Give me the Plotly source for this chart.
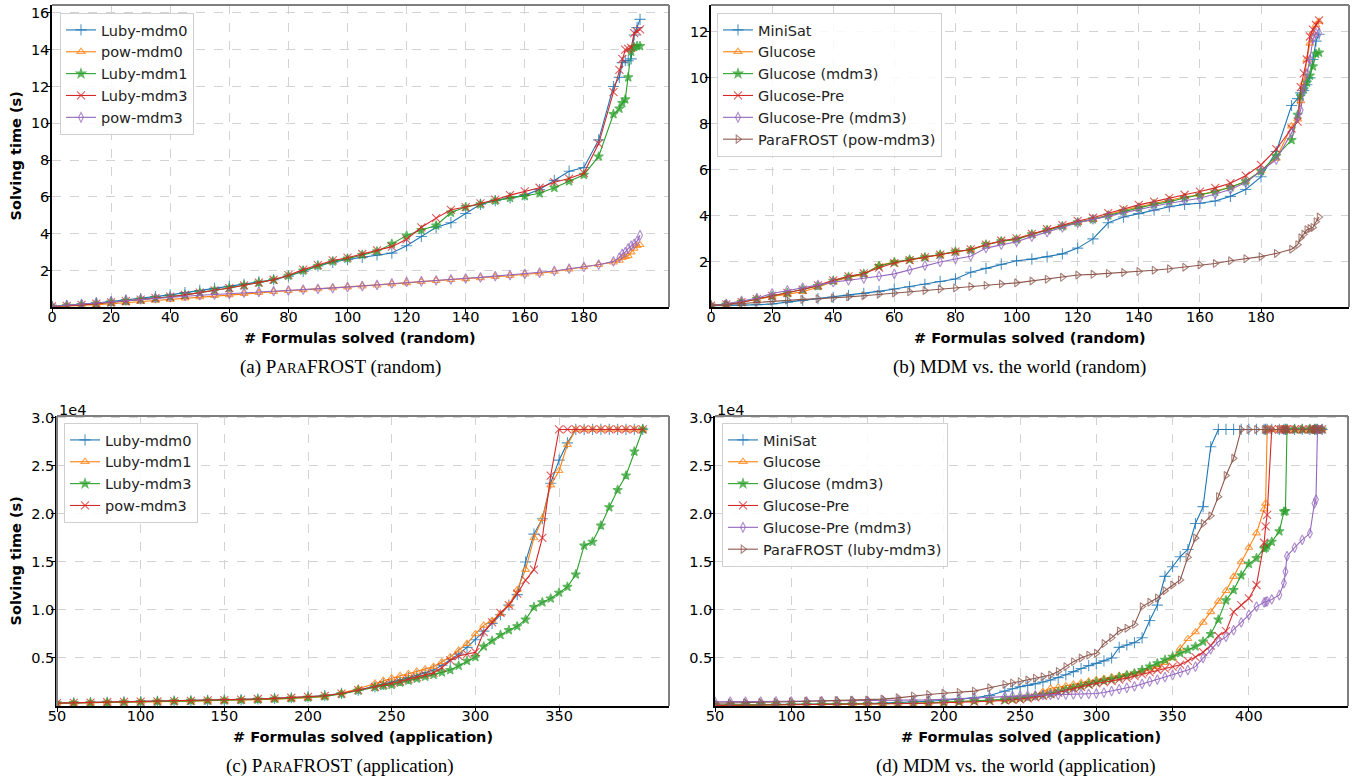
import plotly.graph_objects as go

# ---------------- data: random benchmark (a), (b) ----------------
R_X = [0, 5, 10, 15, 20, 25, 30, 35, 40, 45, 50, 55, 60, 65, 70, 75, 80, 85, 90, 95,
       100, 105, 110, 115, 120, 125, 130, 135, 140, 145, 150, 155, 160, 165, 170, 175,
       180, 185, 190, 192, 193, 194, 195, 196, 197, 198, 199]

A_LUBY0 = [0.05, 0.1, 0.17, 0.24, 0.32, 0.4, 0.48, 0.58, 0.68, 0.8,
           0.92, 1.03, 1.14, 1.25, 1.38, 1.5, 1.7, 1.95, 2.25, 2.45,
           2.6, 2.72, 2.85, 2.95, 3.35, 3.85, 4.35, 4.6, 5.1, 5.6,
           5.8, 5.95, 6.1, 6.4, 6.9, 7.4, 7.6, 9.1, 12.0,
           12.5, 13.3, 13.4, 13.4, 13.5, 14.8, 15.2, 15.65]
A_POW0 = [0.03, 0.06, 0.1, 0.15, 0.2, 0.26, 0.32, 0.37, 0.42, 0.5,
          0.57, 0.63, 0.68, 0.74, 0.8, 0.85, 0.9, 0.95, 1.0, 1.05,
          1.1, 1.15, 1.2, 1.27, 1.33, 1.4, 1.45, 1.5, 1.55, 1.6,
          1.67, 1.72, 1.8, 1.85, 1.95, 2.08, 2.2, 2.32, 2.45,
          2.55, 2.7, 2.75, 2.8, 3.0, 3.2, 3.35, 3.4]
A_LUBY1 = [0.05, 0.08, 0.13, 0.2, 0.27, 0.34, 0.42, 0.5, 0.58, 0.68,
           0.8, 0.92, 1.05, 1.2, 1.35, 1.5, 1.72, 2.0, 2.25, 2.5,
           2.65, 2.85, 3.05, 3.45, 3.9, 4.2, 4.45, 5.15, 5.45, 5.6,
           5.8, 5.95, 6.05, 6.2, 6.5, 6.85, 7.2, 8.2, 10.5,
           10.8, 11.1, 11.3, 12.5, 13.9, 14.15, 14.2, 14.2]
A_LUBY3 = [0.05, 0.08, 0.13, 0.2, 0.27, 0.34, 0.42, 0.5, 0.58, 0.68,
           0.8, 0.92, 1.05, 1.2, 1.35, 1.5, 1.75, 2.05, 2.3, 2.55,
           2.7, 2.9, 3.1, 3.3, 3.7, 4.35, 4.85, 5.3, 5.45, 5.65,
           5.85, 6.1, 6.3, 6.5, 6.8, 7.0, 7.3, 8.9, 11.7,
           12.9, 13.5, 14.0, 14.05, 14.1, 14.9, 15.0, 15.1]
A_POW3 = [0.06, 0.12, 0.18, 0.25, 0.33, 0.4, 0.45, 0.5, 0.56, 0.62,
          0.66, 0.7, 0.74, 0.8, 0.85, 0.88, 0.92, 0.96, 1.0, 1.05,
          1.1, 1.16, 1.22, 1.3, 1.38, 1.42, 1.47, 1.52, 1.58, 1.63,
          1.7, 1.75, 1.82, 1.88, 1.98, 2.1, 2.2, 2.32, 2.5,
          2.7, 2.9, 3.0, 3.2, 3.35, 3.45, 3.6, 3.92]

B_MINISAT = [0.1, 0.1, 0.12, 0.14, 0.17, 0.25, 0.33, 0.4, 0.46, 0.55,
             0.63, 0.72, 0.82, 0.92, 1.03, 1.15, 1.26, 1.55, 1.72, 1.9,
             2.05, 2.12, 2.22, 2.35, 2.6, 3.0, 3.7, 3.95, 4.1, 4.25,
             4.4, 4.5, 4.55, 4.65, 4.85, 5.15, 5.7, 6.8, 8.8,
             9.1, 9.35, 9.45, 9.7, 10.0, 10.8, 11.6, 11.9]
B_GLUCOSE = [0.1, 0.15, 0.25, 0.38, 0.5, 0.6, 0.7, 0.9, 1.15, 1.32,
             1.45, 1.85, 2.0, 2.1, 2.2, 2.32, 2.45, 2.52, 2.75, 2.9,
             2.98, 3.2, 3.4, 3.55, 3.72, 3.85, 4.05, 4.25, 4.4, 4.55,
             4.7, 4.82, 4.92, 5.08, 5.25, 5.5, 5.95, 6.5, 7.9,
             8.2, 9.0, 9.8, 10.8, 11.5, 11.95, 12.3, 12.45]
B_GLUCOSE_M3 = [0.1, 0.15, 0.25, 0.38, 0.52, 0.65, 0.8, 0.95, 1.18, 1.35,
                1.48, 1.82, 1.98, 2.1, 2.2, 2.32, 2.45, 2.52, 2.75, 2.9,
                2.98, 3.2, 3.38, 3.55, 3.72, 3.85, 4.02, 4.2, 4.35, 4.5,
                4.62, 4.78, 4.9, 5.05, 5.25, 5.5, 5.95, 6.6, 7.3,
                8.4, 9.2, 9.5, 9.8, 10.1, 10.5, 11.05, 11.1]
B_GLUCOSE_PRE = [0.1, 0.15, 0.25, 0.38, 0.52, 0.65, 0.8, 0.98, 1.2, 1.37,
                 1.5, 1.75, 1.95, 2.08, 2.2, 2.32, 2.45, 2.55, 2.75, 2.92,
                 3.02, 3.22, 3.42, 3.6, 3.78, 3.92, 4.12, 4.3, 4.48, 4.62,
                 4.78, 4.92, 5.06, 5.22, 5.42, 5.75, 6.22, 6.9, 7.8,
                 8.1, 9.6, 10.2, 10.8, 11.8, 12.1, 12.3, 12.5]
B_GLUCOSE_PRE_M3 = [0.1, 0.18, 0.3, 0.42, 0.63, 0.76, 0.88, 1.0, 1.12, 1.2,
                    1.28, 1.38, 1.48, 1.65, 1.84, 2.0, 2.13, 2.25, 2.6, 2.75,
                    2.88, 3.1, 3.3, 3.5, 3.7, 3.85, 4.0, 4.15, 4.3, 4.42,
                    4.55, 4.67, 4.77, 4.95, 5.15, 5.45, 5.95, 6.45, 7.6,
                    8.3, 8.6, 9.5, 10.2, 10.8, 11.7, 11.95, 11.95]
B_PARAFROST = [0.1, 0.15, 0.2, 0.25, 0.3, 0.34, 0.37, 0.4, 0.43, 0.48,
               0.53, 0.59, 0.65, 0.7, 0.76, 0.82, 0.87, 0.93, 0.98, 1.04,
               1.09, 1.17, 1.25, 1.33, 1.43, 1.46, 1.5, 1.54, 1.58, 1.64,
               1.7, 1.77, 1.87, 1.93, 2.05, 2.14, 2.23, 2.37, 2.55,
               2.75, 3.05, 3.2, 3.4, 3.45, 3.5, 3.75, 3.95]

# ---------------- data: application benchmark (c) ----------------
C_X = [50, 60, 70, 80, 90, 100, 110, 120, 130, 140, 150, 160, 170, 180, 190, 200, 210, 220, 230, 240,
       245, 250, 255, 260, 265, 270, 275, 280, 285, 290, 295, 300, 305, 310, 315, 320, 325, 330,
       335, 340, 345, 350, 355, 360, 365, 370, 375, 380, 385, 390, 395, 400]

C_LUBY0 = [300, 330, 360, 390, 420, 450, 480, 510, 545, 580,
           620, 670, 730, 790, 860, 950, 1080, 1320, 1650, 2000,
           2250, 2500, 2700, 2950, 3200, 3450, 3750, 4250, 4850, 5400,
           6100, 6900, 7800, 8600, 9500, 10500, 11600, 15000, 17900, 19500,
           23200, 25600, 27400, 28800, 28800, 28800, 28800, 28800, 28800, 28800,
           28800, 28800]
C_LUBY1 = [280, 300, 330, 360, 390, 420, 450, 480, 510, 540,
           560, 600, 650, 700, 770, 860, 1000, 1350, 1800, 2350,
           2650, 2900, 3150, 3350, 3600, 3850, 4100, 4600, 5100, 5800,
           6500, 7500, 8400, 8900, 9600, 10500, 12100, 14200, 17500, 19500,
           23000, 24500, 27200, 28800, 28800, 28800, 28800, 28800, 28800, 28800,
           28800, 28800]
C_LUBY3 = [280, 300, 330, 360, 390, 420, 450, 490, 530, 560,
           580, 620, 680, 740, 800, 880, 1000, 1250, 1600, 1950,
           2100, 2200, 2450, 2650, 2850, 3050, 3250, 3500, 3750, 4200,
           4700, 5100, 6200, 6800, 7400, 7900, 8300, 9000, 10300, 10800,
           11200, 11800, 12400, 13700, 16700, 17100, 18800, 20700, 22500, 24000,
           26500, 28800]
C_POW3 = [300, 330, 360, 390, 420, 450, 480, 510, 545, 580,
          620, 670, 730, 790, 860, 940, 1060, 1300, 1650, 2000,
          2200, 2350, 2550, 2800, 3000, 3250, 3450, 4000, 4750, 5200,
          5400, 5600, 7700, 8700, 9700, 10500, 11700, 13100, 14200, 17500,
          24000, 28800, 28800, 28800, 28800, 28800, 28800, 28800, 28800, 28800,
          28800, 28800]

# ---------------- data: application benchmark (d) ----------------
D_X = [50, 60, 70, 80, 90, 100, 110, 120, 130, 140, 150, 160, 170, 180, 190, 200, 210, 220, 230, 240,
       245, 250, 255, 260, 265, 270, 275, 280, 285, 290, 295, 300, 305, 310, 315, 320, 325, 330,
       335, 340, 345, 350, 355, 360, 365, 370, 375, 380, 385, 390, 395, 400, 405, 410,
       411, 412, 415, 420, 423, 424, 425, 430, 435, 440, 443, 444, 445, 448]

D_MINISAT = [100, 110, 120, 130, 140, 150, 160, 180, 200, 230,
             260, 300, 350, 420, 500, 600, 700, 850, 1100, 1550,
             1800, 2010, 2150, 2300, 2500, 2710, 2950, 3250, 3580, 3900,
             4200, 4440, 4700, 5000, 6100, 6350, 6600, 7100, 8900, 10500,
             13500, 14500, 15550, 16300, 19000, 20760, 27000, 28800, 28800, 28800,
             28800, 28800, 28800, 28800,
             28800, 28800, 28800, 28800, 28800, 28800, 28800, 28800, 28800, 28800,
             28800, 28800, 28800, 28800]
D_GLUCOSE = [80, 90, 100, 110, 120, 130, 140, 150, 170, 190,
             210, 230, 260, 290, 330, 380, 430, 500, 570, 650,
             700, 800, 900, 1100, 1500, 1840, 1950, 2100, 2250, 2400,
             2550, 2710, 2850, 3000, 3150, 3300, 3420, 3600, 3850, 4100,
             4500, 5000, 6000, 7000, 7700, 8700, 9800, 10900, 12000, 13470,
             15000, 16500, 18000, 20500,
             21100, 28800, 28800, 28800, 28800, 28800, 28800, 28800, 28800, 28800,
             28800, 28800, 28800, 28800]
D_GLUCOSE_M3 = [70, 80, 90, 100, 110, 120, 130, 140, 160, 180,
                200, 220, 250, 280, 320, 380, 440, 520, 580, 650,
                720, 800, 900, 1000, 1150, 1300, 1500, 1700, 1900, 2100,
                2300, 2500, 2650, 2800, 3000, 3200, 3400, 3750, 4100, 4440,
                4800, 5130, 5500, 5850, 6200, 6700, 7500, 9000, 11000, 12080,
                13600, 14800, 15400, 16400,
                16500, 16700, 17100, 18200, 20240, 20300, 28800, 28800, 28800, 28800,
                28800, 28800, 28800, 28800]
D_GLUCOSE_PRE = [60, 70, 80, 90, 100, 110, 120, 130, 150, 165,
                 180, 200, 230, 260, 290, 330, 380, 440, 500, 580,
                 640, 700, 800, 900, 1050, 1200, 1400, 1600, 1800, 2000,
                 2200, 2360, 2480, 2600, 2750, 2900, 3100, 3300, 3500, 3750,
                 3900, 4100, 4300, 4700, 5100, 5600, 6300, 7300, 7800, 9800,
                 10500, 11200, 12600, 17000,
                 18700, 19900, 28800, 28800, 28800, 28800, 28800, 28800, 28800, 28800,
                 28800, 28800, 28800, 28800]
D_GLUCOSE_PRE_M3 = [430, 440, 450, 460, 470, 480, 490, 500, 510, 520,
                    540, 560, 580, 600, 640, 700, 780, 860, 930, 1000,
                    1030, 1060, 1090, 1110, 1130, 1150, 1170, 1190, 1210, 1230,
                    1260, 1300, 1400, 1550, 1750, 1900, 2050, 2300, 2550, 2750,
                    3000, 3230, 3500, 3750, 4100, 5000, 5900, 6700, 7200, 7900,
                    8700, 9500, 10350, 10800,
                    10850, 10900, 11100, 11560, 12800, 14000, 15600, 16500, 17300, 17980,
                    21100, 21500, 28800, 28800]
D_PARAFROST = [280, 300, 330, 360, 400, 450, 490, 530, 570, 600,
               625, 720, 850, 1050, 1200, 1320, 1420, 1550, 1900, 2250,
               2400, 2540, 2700, 2900, 3050, 3230, 3600, 4100, 4620, 5000,
               5300, 5490, 6500, 7100, 7800, 8100, 8500, 10350, 10800, 11250,
               12000, 12600, 13130, 15500, 17500, 19000, 19800, 21800, 24000, 25800,
               28800, 28800, 28800, 28800,
               28800, 28800, 28800, 28800, 28800, 28800, 28800, 28800, 28800, 28800,
               28800, 28800, 28800, 28800]

# ---------------- labels ----------------
A_NAMES = ["Luby-mdm0", "pow-mdm0", "Luby-mdm1", "Luby-mdm3", "pow-mdm3"]
B_NAMES = ["MiniSat", "Glucose", "Glucose (mdm3)", "Glucose-Pre", "Glucose-Pre (mdm3)", "ParaFROST (pow-mdm3)"]
C_NAMES = ["Luby-mdm0", "Luby-mdm1", "Luby-mdm3", "pow-mdm3"]
D_NAMES = ["MiniSat", "Glucose", "Glucose (mdm3)", "Glucose-Pre", "Glucose-Pre (mdm3)", "ParaFROST (luby-mdm3)"]
R_XTICKS = [0, 20, 40, 60, 80, 100, 120, 140, 160, 180]
A_YTICKS = [2, 4, 6, 8, 10, 12, 14, 16]
B_YTICKS = [2, 4, 6, 8, 10, 12]
C_XTICKS = [50, 100, 150, 200, 250, 300, 350]
D_XTICKS = [50, 100, 150, 200, 250, 300, 350, 400]
APP_YTICKS = [5000, 10000, 15000, 20000, 25000, 30000]
APP_YTEXT = ["0.5", "1.0", "1.5", "2.0", "2.5", "3.0"]

# ---------------- style ----------------
C10 = ["#1f77b4", "#ff7f0e", "#2ca02c", "#d62728", "#9467bd", "#8c564b"]
SYMB = {"plus": "cross-thin", "tri": "triangle-up-open", "star": "star",
        "x": "x-thin", "dia": "diamond-tall-open", "tri_r": "triangle-right-open"}
W, H = 1359, 779
FONT = "DejaVu Sans"

fig = go.Figure()


def add(xs, ys, name, color, symbol, n, legend):
    sz = 8 if symbol in ("cross-thin", "x-thin") else 7
    fig.add_trace(go.Scatter(
        x=xs, y=ys, name=name, mode="lines+markers",
        line=dict(color=color, width=1.1),
        marker=dict(symbol=symbol, size=sz, color=color, opacity=0.75,
                    line=dict(color=color, width=1.1)),
        xaxis="x" + ("" if n == 1 else str(n)), yaxis="y" + ("" if n == 1 else str(n)),
        legend=legend))


# (a)
a_series = [A_LUBY0, A_POW0, A_LUBY1, A_LUBY3, A_POW3]
a_sym = ["plus", "tri", "star", "x", "dia"]
for i, ys in enumerate(a_series):
    add(R_X, ys, A_NAMES[i], C10[i], SYMB[a_sym[i]], 1, "legend")
# (b)
b_series = [B_MINISAT, B_GLUCOSE, B_GLUCOSE_M3, B_GLUCOSE_PRE, B_GLUCOSE_PRE_M3, B_PARAFROST]
b_sym = ["plus", "tri", "star", "x", "dia", "tri_r"]
for i, ys in enumerate(b_series):
    add(R_X, ys, B_NAMES[i], C10[i], SYMB[b_sym[i]], 2, "legend2")
# (c)
c_series = [C_LUBY0, C_LUBY1, C_LUBY3, C_POW3]
c_sym = ["plus", "tri", "star", "x"]
for i, ys in enumerate(c_series):
    add(C_X, ys, C_NAMES[i], C10[i], SYMB[c_sym[i]], 3, "legend3")
# (d)
d_series = [D_MINISAT, D_GLUCOSE, D_GLUCOSE_M3, D_GLUCOSE_PRE, D_GLUCOSE_PRE_M3, D_PARAFROST]
for i, ys in enumerate(d_series):
    add(D_X, ys, D_NAMES[i], C10[i], SYMB[b_sym[i]], 4, "legend4")


def px_x(p):
    return p / W


def px_y(p):
    return 1 - p / H


def axis(domain, rng, tickvals, ticktext=None, anchor=None, standoff=0):
    d = dict(domain=domain, range=rng, tickvals=tickvals, anchor=anchor, automargin=False,
             showgrid=True, gridcolor="#d3d3d3", griddash="dash", gridwidth=0.8,
             zeroline=False, ticks="outside", ticklen=4, tickwidth=1, tickcolor="black",
             tickfont=dict(family=FONT, size=14.5, color="black"),
             ticklabelstandoff=standoff,
             showline=True, linecolor="black", linewidth=1.5)
    if ticktext is not None:
        d["ticktext"] = ticktext
    return d


TOP_Y = [px_y(307), px_y(5)]
BOT_Y = [px_y(706), px_y(416)]
XS, YS = -8, -6

layout_axes = dict(
    xaxis=axis([px_x(52), px_x(669)], [0, 208.8], R_XTICKS, anchor="y", standoff=XS),
    yaxis=axis(TOP_Y, [0.02, 16.43], A_YTICKS, anchor="x", standoff=YS),
    xaxis2=axis([px_x(711), px_x(1349)], [0, 208.8], R_XTICKS, anchor="y2", standoff=XS),
    yaxis2=axis(TOP_Y, [0.04, 13.17], B_YTICKS, anchor="x2", standoff=YS),
    xaxis3=axis([px_x(57), px_x(669)], [50, 415.7], C_XTICKS, anchor="y3", standoff=XS),
    yaxis3=axis(BOT_Y, [0, 30200], APP_YTICKS, APP_YTEXT, anchor="x3", standoff=YS),
    xaxis4=axis([px_x(715), px_x(1348)], [50, 465], D_XTICKS, anchor="y4", standoff=XS),
    yaxis4=axis(BOT_Y, [0, 30200], APP_YTICKS, APP_YTEXT, anchor="x4", standoff=YS),
)


def leg(x, y):
    return dict(x=px_x(x), y=px_y(y), xanchor="left", yanchor="top",
                bgcolor="rgba(255,255,255,0.85)", bordercolor="#d0d0d0", borderwidth=1,
                font=dict(family=FONT, size=14.5, color="#222222"),
                tracegroupgap=0)


shapes = []
for n in ["", "2", "3", "4"]:
    shapes.append(dict(type="line", xref="x%s domain" % n, yref="y%s domain" % n,
                       x0=0, x1=1, y0=1, y1=1, line=dict(color="#7f7f7f", width=2)))
    shapes.append(dict(type="line", xref="x%s domain" % n, yref="y%s domain" % n,
                       x0=1, x1=1, y0=0, y1=1, line=dict(color="#7f7f7f", width=2)))
shapes.append(dict(type="line", xref="x3 domain", yref="y3 domain",
                   x0=0, x1=0, y0=0, y1=1, line=dict(color="#7f7f7f", width=2)))


def ann(text, x, y, size=14.5, family=FONT, angle=0, xanchor="center"):
    return dict(text=text, x=px_x(x), y=px_y(y), xref="paper", yref="paper",
                showarrow=False, xanchor=xanchor, yanchor="middle", textangle=angle,
                font=dict(family=family, size=size, color="black"))


SC = "<span style='font-size:14.5px'>ARA</span>"
CAP = 19
annotations = [
    ann("<b>Solving time (s)</b>", 15.5, 156, angle=-90),
    ann("<b>Solving time (s)</b>", 15.5, 561, angle=-90),
    ann("<b># Formulas solved (random)</b>", 360, 338),
    ann("<b># Formulas solved (random)</b>", 1030, 338),
    ann("<b># Formulas solved (application)</b>", 363, 737),
    ann("<b># Formulas solved (application)</b>", 1031, 737),
    ann("(a) P" + SC + "FROST (random)", 340, 367, size=CAP, family="Liberation Serif"),
    ann("(b) MDM vs. the world (random)", 1019, 367, size=CAP, family="Liberation Serif"),
    ann("(c) P" + SC + "FROST (application)", 340, 766, size=CAP, family="Liberation Serif"),
    ann("(d) MDM vs. the world (application)", 1016, 766, size=CAP, family="Liberation Serif"),
    ann("1e4", 57, 410, xanchor="left"),
    ann("1e4", 715, 410, xanchor="left"),
]

fig.update_layout(
    width=W, height=H, margin=dict(l=0, r=0, t=0, b=0, autoexpand=False),
    paper_bgcolor="white", plot_bgcolor="white",
    showlegend=True,
    legend=leg(60, 13), legend2=leg(717, 13), legend3=leg(64, 423), legend4=leg(722, 423),
    shapes=shapes, annotations=annotations,
    **layout_axes,
)

fig.write_html(
    "out.html",
    config={"displayModeBar": False},
    post_script="document.documentElement.style.margin='0';document.body.style.margin='0';"
                "document.body.style.padding='0';document.body.style.overflow='hidden';",
)
